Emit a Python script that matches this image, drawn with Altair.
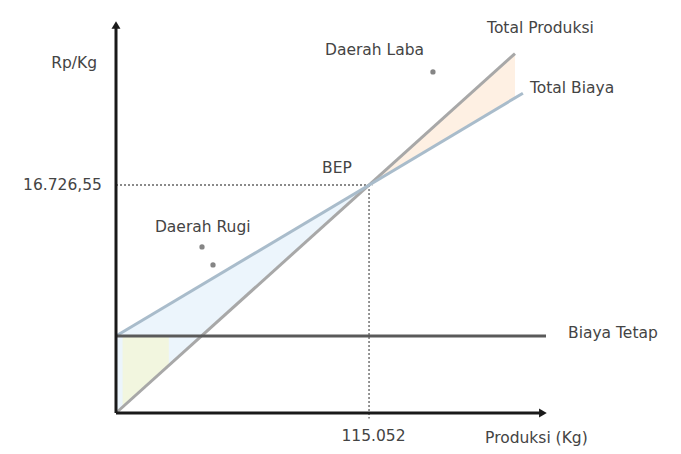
import altair as alt
import pandas as pd

# ---- values ----
bep_x = 115052          # production at break-even (Kg)
bep_y = 16726.55        # value at break-even
fixed_cost = 5650       # level of the fixed-cost line
x_max = 195500
y_max = 28465
rev_end_x = 181400
cost_end_x = 185000
fc_end_x = 195500
axis_end_x = 194100

x_tick_label = "115.052"
y_tick_label = "16.726,55"

rev_slope = bep_y / bep_x
cost_slope = (bep_y - fixed_cost) / bep_x

lines_df = pd.DataFrame({
    "series": ["Total Produksi", "Total Produksi", "Total Biaya", "Total Biaya", "Biaya Tetap", "Biaya Tetap"],
    "x": [0, rev_end_x, 0, cost_end_x, 0, fc_end_x],
    "y": [0, rev_slope * rev_end_x, fixed_cost, fixed_cost + cost_slope * cost_end_x, fixed_cost, fixed_cost],
})

loss_df = pd.DataFrame({"x": [0, bep_x], "lo": [0, bep_y], "hi": [fixed_cost, bep_y]})
profit_df = pd.DataFrame({
    "x": [bep_x, rev_end_x],
    "lo": [bep_y, fixed_cost + cost_slope * rev_end_x],
    "hi": [bep_y, rev_slope * rev_end_x],
})
patch_x = [3000, 24000]
fc_patch_df = pd.DataFrame({"x": patch_x, "lo": [rev_slope * v for v in patch_x],
                            "hi": [fixed_cost, fixed_cost]})

XS = alt.Scale(domain=[0, x_max], nice=False, zero=True)
YS = alt.Scale(domain=[0, y_max], nice=False, zero=True)
xs = alt.X("x:Q", scale=XS, axis=None)
ys = alt.Y("y:Q", scale=YS, axis=None)


def area(df, color, op):
    return alt.Chart(df).mark_area(color=color, opacity=op).encode(
        x=alt.X("x:Q", scale=XS, axis=None),
        y=alt.Y("lo:Q", scale=YS, axis=None),
        y2="hi:Q",
    )


fills = (area(loss_df, "#e6f2fb", 0.75) + area(fc_patch_df, "#f3f6dc", 0.9)
         + area(profit_df, "#fdebd9", 0.75))

line_colors = alt.Scale(domain=["Total Produksi", "Total Biaya", "Biaya Tetap"],
                        range=["#a8a8a8", "#a9bccb", "#5a5a5a"])
lines = alt.Chart(lines_df).mark_line(strokeWidth=3).encode(
    x=xs, y=ys, detail="series:N",
    color=alt.Color("series:N", scale=line_colors, legend=None),
)

# dotted guides to BEP
guides_df = pd.DataFrame({"g": ["h", "h", "v", "v"],
                          "x": [0, bep_x + 1500, bep_x, bep_x],
                          "y": [bep_y, bep_y, bep_y, -400]})
guides = alt.Chart(guides_df).mark_line(strokeDash=[2, 2], color="#8a8a8a", strokeWidth=1.8).encode(
    x=xs, y=ys, detail="g:N")

# axes with arrows
axes_df = pd.DataFrame({"a": ["x", "x", "y", "y"],
                        "x": [0, axis_end_x, 0, 0],
                        "y": [0, 0, 0, y_max]})
axes = alt.Chart(axes_df).mark_line(color="#1a1a1a", strokeWidth=3).encode(x=xs, y=ys, detail="a:N")
arrow_df = pd.DataFrame({"x": [axis_end_x, 0], "y": [0, y_max], "shape": ["triangle-right", "triangle-up"]})
arrows = alt.Chart(arrow_df).mark_point(filled=True, size=80, color="#1a1a1a", opacity=1).encode(
    x=xs, y=ys, shape=alt.Shape("shape:N", scale=None))

# texts
labels_df = pd.DataFrame({
    "text": ["Total Produksi", "Total Biaya", "Biaya Tetap", "Daerah Laba", "Daerah Rugi", "BEP",
             "Rp/Kg", y_tick_label, x_tick_label, "Produksi (Kg)"],
    "x": [168700, 188200, 205500, 95000, 17700, 93700, -8600, -6400, bep_x + 2000, 167800],
    "y": [28245, 23840, 5870, 26630, 13650, 17970, 25680, bep_y, -1700, -1830],
    "align": ["left", "left", "left", "left", "left", "left", "right", "right", "center", "left"],
})
texts = []
for al in ["left", "right", "center"]:
    sub = labels_df[labels_df["align"] == al]
    texts.append(alt.Chart(sub).mark_text(align=al, baseline="middle", fontSize=15.5,
                                          font="DejaVu Sans", color="#444444").encode(
        x=xs, y=ys, text="text:N"))

pointer_df = pd.DataFrame({"x": [144100, 39100, 44100], "y": [25020, 12180, 10860]})
pointers = alt.Chart(pointer_df).mark_point(filled=True, size=28, color="#666666", opacity=0.8).encode(
    x=xs, y=ys)

chart = alt.layer(fills, guides, lines, axes, arrows, pointers, *texts).properties(
    width=430, height=388,
    autosize=alt.AutoSizeParams(type="none"),
    padding={"left": 108, "top": 17, "right": 127, "bottom": 38},
).configure_view(stroke=None)

chart.save("out.html", embed_options={"renderer": "svg", "actions": False})
